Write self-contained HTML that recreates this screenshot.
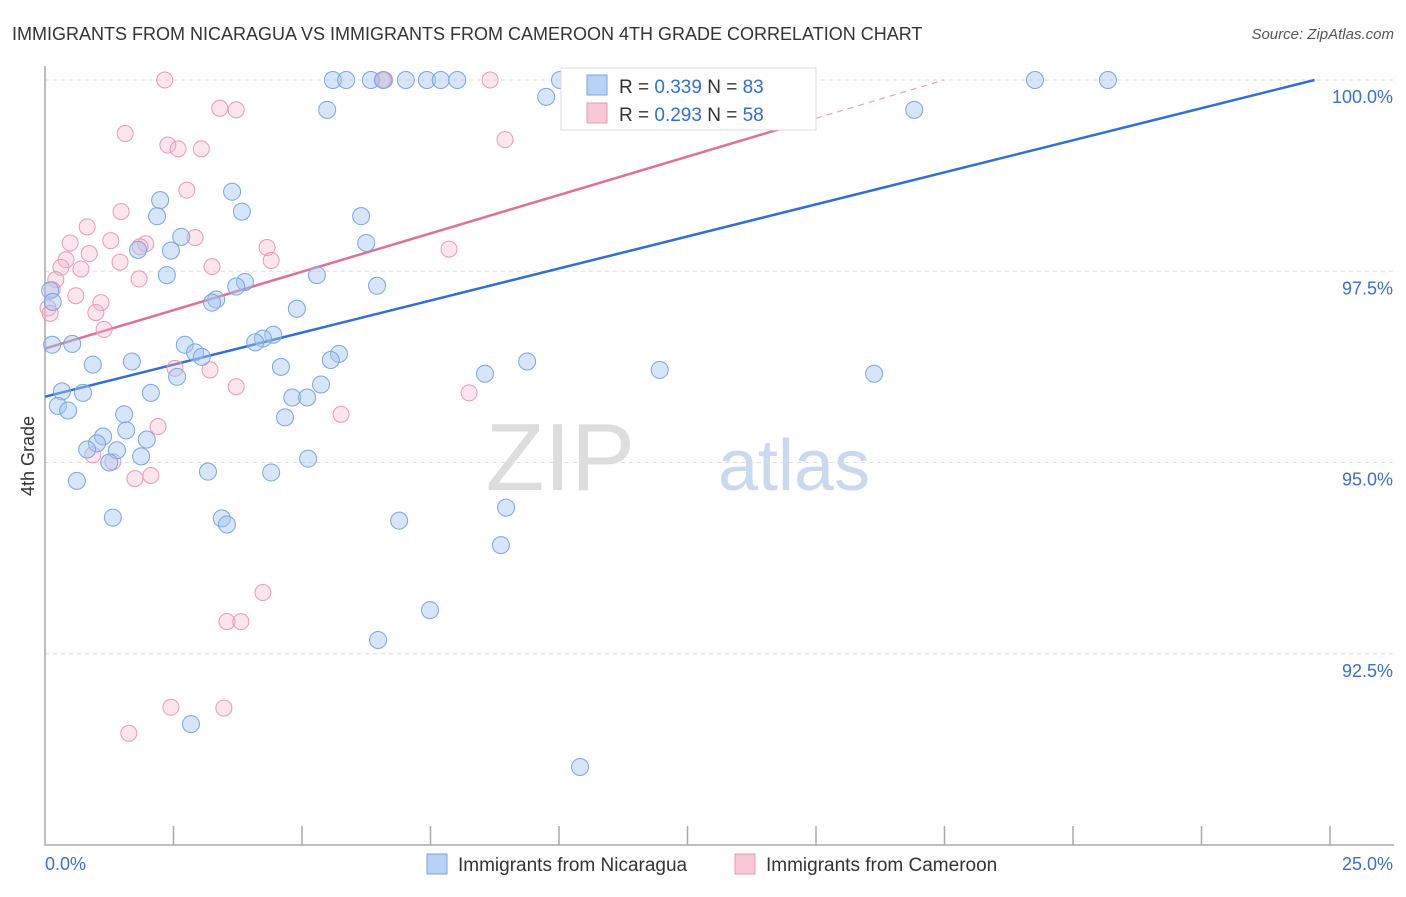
<!DOCTYPE html>
<html><head><meta charset="utf-8"><style>
body{margin:0;background:#fff;font-family:"Liberation Sans",sans-serif;}
svg text{font-family:"Liberation Sans",sans-serif;}
</style></head><body>
<svg id="chart" width="1406" height="892" viewBox="0 0 1406 892" xmlns="http://www.w3.org/2000/svg">
<text x="12" y="40" font-size="18" fill="#333">IMMIGRANTS FROM NICARAGUA VS IMMIGRANTS FROM CAMEROON 4TH GRADE CORRELATION CHART</text>
<text x="1394" y="39" font-size="15" fill="#555" text-anchor="end" font-style="italic">Source: ZipAtlas.com</text>
<g>
<text x="635" y="490" font-size="96" fill="#ddd" text-anchor="end" font-family="Liberation Serif, serif">ZIP</text>
<text x="718" y="490" font-size="72" fill="#c9d9f0">atlas</text>
</g>
<g id="grid"></g>
<g id="axes"></g>
<g id="trends"></g>
<g id="points"></g>
<g>
<rect x="561" y="68" width="255" height="62" fill="#fff" stroke="#ddd"/>
<rect x="587" y="75" width="20" height="20" fill="#b7d2f5" stroke="#7aa6e0"/>
<text x="619" y="93" font-size="19" fill="#333">R = <tspan fill="#2f6fd6">0.339</tspan>    N = <tspan fill="#2f6fd6">83</tspan></text>
<rect x="587" y="103" width="20" height="20" fill="#f9c8d7" stroke="#e89ab4"/>
<text x="619" y="121" font-size="19" fill="#333">R = <tspan fill="#2f6fd6">0.293</tspan>    N = <tspan fill="#2f6fd6">58</tspan></text>
</g>
<g>
<rect x="427" y="854" width="20" height="20" fill="#b7d2f5" stroke="#7aa6e0"/>
<text x="458" y="871" font-size="19" fill="#333">Immigrants from Nicaragua</text>
<rect x="735" y="854" width="20" height="20" fill="#f9c8d7" stroke="#e89ab4"/>
<text x="766" y="871" font-size="19" fill="#333">Immigrants from Cameroon</text>
</g>
<text transform="translate(34,456) rotate(-90)" font-size="18" fill="#333" text-anchor="middle">4th Grade</text>
</svg>
<script>
const blueX=[5.60,5.86,6.34,6.58,7.02,7.43,7.70,8.02,10.02,19.26,20.68,9.75,5.49,16.91,3.64,2.24,3.83,2.18,6.15,2.65,6.25,1.81,2.45,2.37,5.29,3.89,3.72,6.46,3.33,3.25,4.90,4.44,4.24,4.09,2.72,0.53,0.14,2.92,3.05,5.72,5.56,1.69,0.93,4.59,9.38,8.56,11.96,16.13,2.57,5.37,0.33,0.74,2.06,4.81,5.10,0.25,0.45,1.54,4.67,1.58,1.13,1.98,1.01,0.82,1.40,1.87,5.12,1.25,3.17,4.40,0.62,8.97,1.32,3.44,3.54,6.89,8.87,7.49,6.48,2.84,10.41,0.10,0.15];
const blueY=[100,100,100,100,100,100,100,100,100,100,100,99.78,99.61,99.61,98.54,98.43,98.28,98.22,98.22,97.95,97.87,97.78,97.77,97.45,97.45,97.36,97.30,97.31,97.13,97.09,97.01,96.67,96.62,96.57,96.54,96.55,96.54,96.44,96.38,96.42,96.34,96.32,96.28,96.25,96.32,96.16,96.21,96.16,96.12,96.02,95.93,95.91,95.91,95.85,95.85,95.74,95.68,95.63,95.59,95.42,95.34,95.30,95.25,95.17,95.16,95.08,95.05,95.00,94.88,94.87,94.76,94.41,94.28,94.27,94.19,94.24,93.92,93.07,92.68,91.58,91.02,97.25,97.10];
const pinkX=[2.33,6.61,6.56,8.66,14.53,3.40,3.72,1.56,8.95,2.39,2.59,3.04,2.76,1.48,0.82,0.49,1.28,1.96,1.85,2.92,4.32,7.86,0.86,1.46,0.41,0.31,0.70,3.25,4.40,1.83,0.21,0.14,0.60,1.09,0.99,0.06,1.15,3.72,2.53,3.21,8.25,5.76,2.20,0.93,1.32,1.75,2.06,4.24,3.54,3.81,2.45,3.48,1.63,0.10];
const pinkY=[100,100,100,100,100,99.63,99.61,99.30,99.22,99.15,99.10,99.10,98.56,98.28,98.08,97.87,97.90,97.86,97.82,97.94,97.81,97.79,97.73,97.62,97.65,97.55,97.53,97.56,97.64,97.40,97.39,97.26,97.18,97.09,96.96,97.02,96.74,95.99,96.23,96.21,95.91,95.63,95.47,95.10,95.01,94.79,94.83,93.30,92.92,92.92,91.80,91.79,91.46,96.95];
const yTicks=[100,97.5,95,92.5];
const yTickLabels=["100.0%","97.5%","95.0%","92.5%"];
const xTicks=[0,2.5,5,7.5,10,12.5,15,17.5,20,22.5,25];
const blueTrend=[0,95.86,24.7,100];
const pinkTrend=[0,96.49,15,99.5];
const ns="http://www.w3.org/2000/svg";
const X0=45,X1=1330,YT=80,YB=845;
function sx(v){return X0+(v/25)*(X1-X0);}
function sy(v){return YT+(100-v)/10*(YB-YT);}
function mk(t,a,p){const e=document.createElementNS(ns,t);for(const k in a)e.setAttribute(k,a[k]);p.appendChild(e);return e;}
const grid=document.getElementById('grid'),axes=document.getElementById('axes');
yTicks.forEach((v,i)=>{
 const l=mk('line',{x1:X0,x2:1394,y1:sy(v),y2:sy(v),stroke:'#ddd','stroke-dasharray':'4,4'},grid);
 
 
 const t=mk('text',{x:1393,y:sy(v)+23,'font-size':18,fill:'#3a6fd0','text-anchor':'end'},axes);
 t.textContent=yTickLabels[i];
 
 
});
const ax=mk('path',{d:`M${X0},${66}V${YB}H1394`,fill:'none',stroke:'#aaa','stroke-width':1.5},axes);


xTicks.forEach(v=>{
 if(v===0)return;
 const l=mk('line',{x1:sx(v),x2:sx(v),y1:YB-19,y2:YB,stroke:'#aaa','stroke-width':1.5},axes);
 
 
});
const xl0=mk('text',{x:45,y:870,'font-size':18,fill:'#3a6fd0'},axes);xl0.textContent='0.0%';


const xl1=mk('text',{x:1393,y:870,'font-size':18,fill:'#3a6fd0','text-anchor':'end'},axes);xl1.textContent='25.0%';


const pts=document.getElementById('points');
pinkX.forEach((x,i)=>{
 const c=mk('circle',{cx:sx(x),cy:sy(pinkY[i]),r:8,fill:'rgba(246,180,202,0.35)',stroke:'#e99ab5','stroke-width':1},pts);
 
 
});
blueX.forEach((x,i)=>{
 const c=mk('circle',{cx:sx(x),cy:sy(blueY[i]),r:8.5,fill:'rgba(165,198,240,0.45)',stroke:'#7aa6e0','stroke-width':1},pts);
 
 
});
const tr=document.getElementById('trends');
const ps=(pinkTrend[3]-pinkTrend[1])/(pinkTrend[2]-pinkTrend[0]);
const pxEnd=(100-pinkTrend[1])/ps;
const pd=mk('line',{x1:sx(pinkTrend[2]),y1:sy(pinkTrend[3]),x2:sx(pxEnd),y2:sy(100),stroke:'#e8a0ba','stroke-dasharray':'6,5','stroke-width':1.2},tr);


const pl=mk('line',{x1:sx(pinkTrend[0]),y1:sy(pinkTrend[1]),x2:sx(pinkTrend[2]),y2:sy(pinkTrend[3]),stroke:'#e0709a','stroke-width':2.5},tr);


const bl=mk('line',{x1:sx(blueTrend[0]),y1:sy(blueTrend[1]),x2:sx(blueTrend[2]),y2:sy(blueTrend[3]),stroke:'#2f6fd6','stroke-width':2.5},tr);


</script>
</body></html>
